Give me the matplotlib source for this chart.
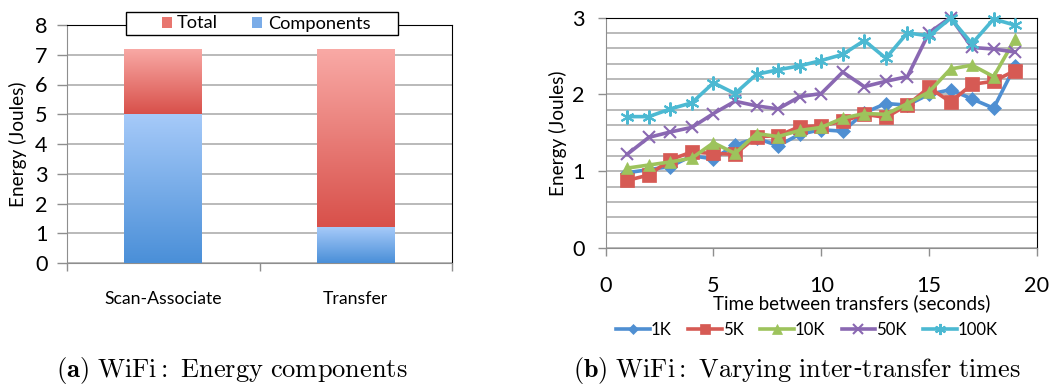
import numpy as np
import matplotlib
matplotlib.use("Agg")
import matplotlib.pyplot as plt
from matplotlib.colors import LinearSegmentedColormap
from matplotlib.lines import Line2D
from matplotlib.patches import Rectangle

plt.rcParams['font.family'] = ['Lato', 'DejaVu Sans']
plt.rcParams['mathtext.fontset'] = 'cm'

# ---- (a) energy components ----
phases = ["Scan-Associate", "Transfer"]
components = [5.0, 1.2]
totals = [7.2, 7.2]

# ---- (b) energy vs inter-transfer time ----
gap_seconds = list(range(1, 20))
size_labels = ["1K", "5K", "10K", "50K", "100K"]
energy_1k = [0.98, 1.02, 1.06, 1.20, 1.16, 1.34, 1.43, 1.33, 1.48, 1.54,
             1.52, 1.76, 1.88, 1.86, 2.00, 2.06, 1.94, 1.82, 2.37]
energy_5k = [0.88, 0.95, 1.15, 1.25, 1.23, 1.22, 1.45, 1.46, 1.58, 1.59,
             1.65, 1.74, 1.70, 1.86, 2.09, 1.90, 2.13, 2.17, 2.31]
energy_10k = [1.04, 1.08, 1.12, 1.17, 1.37, 1.23, 1.49, 1.45, 1.53, 1.57,
              1.69, 1.75, 1.74, 1.88, 2.03, 2.33, 2.38, 2.23, 2.72]
energy_50k = [1.22, 1.44, 1.51, 1.57, 1.75, 1.91, 1.85, 1.81, 1.97, 2.01,
              2.29, 2.10, 2.17, 2.23, 2.80, 3.00, 2.61, 2.59, 2.55]
energy_100k = [1.71, 1.71, 1.81, 1.89, 2.15, 2.01, 2.26, 2.32, 2.37, 2.44,
               2.52, 2.70, 2.47, 2.80, 2.76, 2.99, 2.66, 2.98, 2.90]

caption_a = r'$\mathbf{(a)}\ \mathrm{WiFi{:}\ Energy\ components}$'
caption_b = r'$\mathbf{(b)}\ \mathrm{WiFi{:}\ Varying\ inter}$-$\mathrm{transfer\ times}$'

W, H = 1054, 385
fig = plt.figure(figsize=(W / 100, H / 100), dpi=100)
renderer = fig.canvas.get_renderer()


def size_for_width(s, target_px, base=12.0):
    """Font size at which string s renders target_px wide."""
    t = fig.text(0, 0, s, fontsize=base)
    w = t.get_window_extent(renderer).width
    t.remove()
    return base * target_px / w


def px_axes(x0, y0, x1, y1):
    return fig.add_axes([x0 / W, 1 - y1 / H, (x1 - x0) / W, (y1 - y0) / H])


fs_tick_lbl = size_for_width("Scan-Associate", 117)
fs_ylabel = size_for_width("Energy (Joules)", 125)
fs_xlabel = size_for_width("Time between transfers (seconds)", 276)
fs_leg1 = size_for_width("Components", 102)
fs_leg2 = size_for_width("100K", 40)
fs_num = size_for_width("20", 25)
fs_cap_a = size_for_width(caption_a, 353)
fs_cap_b = size_for_width(caption_b, 449)

GRID = '#B4B4B4'
SPINE_GRAY = '#8E8E8E'

# ---------------- left panel ----------------
AX1 = (67, 25, 452, 263)
ax1 = px_axes(*AX1)
ax1_w, ax1_h = AX1[2] - AX1[0], AX1[3] - AX1[1]
xpos = np.arange(len(phases))
upper = [t - c for t, c in zip(totals, components)]
bw = 0.405
blue_bars = ax1.bar(xpos, components, width=bw, color='#7AACE8', zorder=3,
                    label='Components', linewidth=0)
red_bars = ax1.bar(xpos, upper, width=bw, bottom=components, color='#E8766F',
                   zorder=3, label='Total', linewidth=0)

grad = np.linspace(0, 1, 256).reshape(-1, 1)
cm_blue = LinearSegmentedColormap.from_list('b', ['#4A8FD8', '#A6CAF9'])
cm_red = LinearSegmentedColormap.from_list('r', ['#D8504A', '#F9AAA6'])
for bars, cmap in ((blue_bars, cm_blue), (red_bars, cm_red)):
    for p in bars:
        x, y = p.get_x(), p.get_y()
        w, h = p.get_width(), p.get_height()
        im = ax1.imshow(grad, extent=[x, x + w, y, y + h], origin='lower',
                        aspect='auto', cmap=cmap, zorder=4,
                        interpolation='bilinear')
        im.set_clip_path(p)

ax1.set_xlim(-0.5, 1.5)
ax1.set_ylim(0, 8)
ax1.set_yticks(range(0, 9))
ax1.yaxis.grid(True, color=GRID, linewidth=1.3, zorder=0)
ax1.set_axisbelow(True)
ax1.set_xticks([-0.5, 0.5, 1.5])
ax1.set_xticklabels([])
ax1.set_xticks(xpos, minor=True)
ax1.set_xticklabels(phases, minor=True, fontsize=fs_tick_lbl)
ax1.tick_params(axis='x', which='minor', length=0, pad=20)
ax1.tick_params(axis='x', which='major', length=6, color=SPINE_GRAY, width=1)
ax1.tick_params(axis='y', length=7, color=SPINE_GRAY, width=1, pad=7,
                labelsize=fs_num)
for s in ('left', 'bottom'):
    ax1.spines[s].set_color(SPINE_GRAY)
for s in ('top', 'right'):
    ax1.spines[s].set_color('black')
ax1.set_ylabel('Energy (Joules)', fontsize=fs_ylabel)
ax1.yaxis.set_label_coords((18 - 67) / ax1_w, 0.5)
ax1.yaxis.label.set_va('center')

# legend box straddling the top spine
box = Rectangle(((126 - AX1[0]) / ax1_w, (AX1[3] - 35) / ax1_h),
                (398 - 126) / ax1_w, (35 - 12) / ax1_h,
                transform=ax1.transAxes, facecolor='white', edgecolor='black',
                linewidth=1.0, clip_on=False, zorder=9)
ax1.add_patch(box)
px_per_pt = 100 / 72
leg1 = ax1.legend(handles=[red_bars, blue_bars], labels=['Total', 'Components'],
                  loc='center',
                  bbox_to_anchor=((266 - AX1[0]) / ax1_w, (AX1[3] - 23.5) / ax1_h),
                  ncol=2, fontsize=fs_leg1, frameon=False,
                  handlelength=10 / (fs_leg1 * px_per_pt),
                  handleheight=10 / (fs_leg1 * px_per_pt),
                  handletextpad=0.3,
                  columnspacing=34 / (fs_leg1 * px_per_pt),
                  borderpad=0, borderaxespad=0)
leg1.set_zorder(10)

# ---------------- right panel ----------------
AX2 = (605.7, 17.5, 1036.7, 248)
ax2 = px_axes(*AX2)
ax2_w, ax2_h = AX2[2] - AX2[0], AX2[3] - AX2[1]
series = [energy_1k, energy_5k, energy_10k, energy_50k, energy_100k]
colors = ['#4F8FD2', '#D65A54', '#9DC35C', '#8A68B2', '#4CB9D2']
markers = ['D', 's', '^', 'x', (6, 2, 0)]
msizes = [7, 9.5, 9, 9, 10]
handles = []
for vals, lab, c, m, ms in zip(series, size_labels, colors, markers, msizes):
    thin = m == 'x' or isinstance(m, tuple)
    ln, = ax2.plot(gap_seconds, vals, color=c, linewidth=2.6, marker=m,
                   markersize=ms, markeredgewidth=1.5 if thin else 0.5,
                   markeredgecolor=c, markerfacecolor=c, label=lab, zorder=3,
                   clip_on=False)
    handles.append(ln)

ax2.set_xlim(0, 20)
ax2.set_ylim(0, 3)
ax2.set_xticks([0, 5, 10, 15, 20])
ax2.set_yticks([0, 1, 2, 3])
ax2.set_yticks(np.arange(0, 3.01, 0.2), minor=True)
ax2.yaxis.grid(True, which='both', color=GRID, linewidth=1.3, zorder=0)
ax2.set_axisbelow(True)
ax2.tick_params(axis='y', which='minor', length=0)
ax2.tick_params(axis='y', which='major', length=6, color=SPINE_GRAY, width=1,
                pad=9, labelsize=fs_num)
ax2.tick_params(axis='x', length=6, color=SPINE_GRAY, width=1, pad=14,
                labelsize=fs_num)
for s in ('left', 'bottom'):
    ax2.spines[s].set_color(SPINE_GRAY)
for s in ('top', 'right'):
    ax2.spines[s].set_color('black')
ax2.set_ylabel('Energy (Joules)', fontsize=fs_ylabel)
ax2.yaxis.set_label_coords((558 - AX2[0]) / ax2_w, 0.5)
ax2.yaxis.label.set_va('center')
ax2.set_xlabel('Time between transfers (seconds)', fontsize=fs_xlabel)
ax2.xaxis.set_label_coords((852 - AX2[0]) / ax2_w, (AX2[3] - 303) / ax2_h)
ax2.xaxis.label.set_va('center')

leg_handles = [Line2D([], [], color=h.get_color(), linewidth=2.6,
                      marker=h.get_marker(), markersize=h.get_markersize() * 0.8,
                      markeredgewidth=h.get_markeredgewidth(),
                      markerfacecolor=h.get_color(), markeredgecolor=h.get_color())
               for h in handles]
ax2.legend(leg_handles, size_labels, loc='center',
           bbox_to_anchor=((807 - AX2[0]) / ax2_w, (AX2[3] - 330) / ax2_h),
           ncol=5, frameon=False, fontsize=fs_leg2, handlelength=2.0,
           handletextpad=0.05, columnspacing=1.0)

# ---------------- captions ----------------
fig.text(232 / W, 1 - 371 / H, caption_a,
         ha='center', va='center', fontsize=fs_cap_a)
fig.text(797 / W, 1 - 371 / H, caption_b,
         ha='center', va='center', fontsize=fs_cap_b)

fig.savefig('out.png', dpi=100)
